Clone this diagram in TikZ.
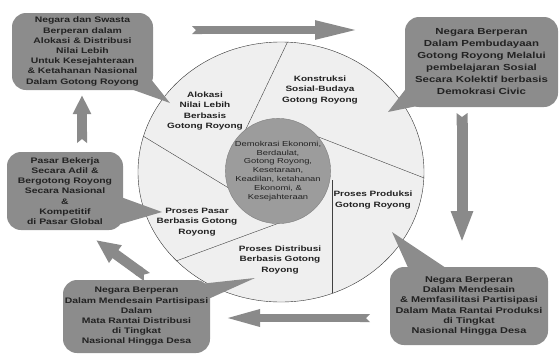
\documentclass[tikz,border=0pt]{standalone}
\usepackage{fontspec}
\setmainfont{Liberation Sans}[FakeStretch=1.3]
\usetikzlibrary{arrows.meta}
\definecolor{boxgray}{HTML}{8C8C8C}
\definecolor{arrowgray}{HTML}{8A8A8A}
\definecolor{ringgray}{HTML}{EFEFEF}
\definecolor{coregray}{HTML}{9C9C9C}
\definecolor{inkgray}{HTML}{222222}
\begin{document}
\begin{tikzpicture}[x=1pt, y=-1pt, box_style/.style={rounded corners=14pt,fill=boxgray,text=inkgray,align=center,inner sep=0pt,font=\fontsize{8}{10.2}\selectfont\bfseries},label_style/.style={align=center,text=inkgray,inner sep=0pt,font=\fontsize{7.7}{10.5}\selectfont\bfseries},core_style/.style={circle,fill=coregray,draw=gray,thin,minimum size=98pt,inner sep=0pt,align=center,text=inkgray,font=\fontsize{7.2}{8.9}\selectfont},pointer_style/.style={fill=boxgray},edge_style/.style={draw=arrowgray,{Triangle Cap[reversed,length=4pt]}-{Triangle[length=#1]}}]
      \useasboundingbox (0,0) rectangle (559,354);
      \fill[ringgray] (281,172) ellipse [x radius=143, y radius=130];
      \begin{scope}
        \clip (281,172) ellipse [x radius=143, y radius=130];
        \draw[black!75, thin] (245,131) -- (298,20);
        \draw[black!75, thin] (316,136) -- (450,188);
        \draw[black!75, thin] (332,180) -- (332,320);
        \draw[black!75, thin] (290,219) -- (130,278);
        \draw[black!75, thin] (232,190) -- (110,116);
      \end{scope}
      \draw[black!80, thin] (281,172) ellipse [x radius=143, y radius=130];
      \fill[pointer_style] (128,88) -- (150,78) -- (170,103) -- cycle;
      \fill[pointer_style] (408,86) -- (422,105) -- (388,112) -- cycle;
      \fill[pointer_style] (118,196) -- (114,226) -- (162,212) -- cycle;
      \fill[pointer_style] (410,272) -- (452,272) -- (392,232) -- cycle;
      \fill[pointer_style] (190,285) -- (206,300) -- (255,278) -- cycle;
      \draw
        (82.5,51.5) node[box_style,minimum width=141pt,minimum height=77pt] (alokasi_box){Negara dan Swasta\\Berperan dalam\\Alokasi \& Distribusi\\Nilai Lebih\\Untuk Kesejahteraan\\\& Ketahanan Nasional\\Dalam Gotong Royong}
        (481.5,62) node[box_style,minimum width=153pt,minimum height=90pt,font=\fontsize{8.8}{12}\selectfont\bfseries] (budaya_box){Negara Berperan\\Dalam Pembudayaan\\Gotong Royong Melalui\\pembelajaran Sosial\\Secara Kolektif berbasis\\Demokrasi Civic}
        (65,191) node[box_style,minimum width=116pt,minimum height=78pt] (pasar_box){Pasar Bekerja\\Secara Adil \&\\Bergotong Royong\\Secara Nasional\\\&\\Kompetitif\\di Pasar Global}
        (469,306) node[box_style,minimum width=158pt,minimum height=78pt,font=\fontsize{8.4}{10.2}\selectfont\bfseries] (produksi_box){Negara Berperan\\Dalam Mendesain\\\& Memfasilitasi Partisipasi\\Dalam Mata Rantai Produksi\\di Tingkat\\Nasional Hingga Desa}
        (136.5,316.5) node[box_style,minimum width=147pt,minimum height=73pt] (distribusi_box){Negara Berperan\\Dalam Mendesain Partisipasi\\Dalam\\Mata Rantai Distribusi\\di Tingkat\\Nasional Hingga Desa}
        (205,111) node[label_style] (alokasi){Alokasi\\Nilai Lebih\\Berbasis\\Gotong Royong}
        (320,90) node[label_style] (konstruksi){Konstruksi\\Sosial-Budaya\\Gotong Royong}
        (373,200) node[label_style] (produksi){Proses Produksi\\Gotong Royong}
        (197,222) node[label_style] (pasar){Proses Pasar\\Berbasis Gotong\\Royong}
        (280,260) node[label_style] (distribusi){Proses Distribusi\\Berbasis Gotong\\Royong}
        (278,171) node[core_style] (core){Demokrasi Ekonomi,\\Berdaulat,\\Gotong Royong,\\Kesetaraan,\\Keadilan, ketahanan\\Ekonomi, \&\\Kesejahteraan};
      \coordinate (top_tail) at (192,30);
      \coordinate (top_tip) at (360,30);
      \coordinate (right_tail) at (462,113);
      \coordinate (right_tip) at (462,243);
      \coordinate (bottom_tail) at (370,318);
      \coordinate (bottom_tip) at (222,318);
      \coordinate (diag_tail) at (147,277);
      \coordinate (diag_tip) at (96,240);
      \coordinate (left_tail) at (82,143);
      \coordinate (left_tip) at (82,95);
      \begin{scope}
        \draw[edge_style={45pt,width=17pt}, line width=8pt] (top_tail) to (top_tip);
        \draw[edge_style={32pt,width=20pt}, line width=11pt] (right_tail) to (right_tip);
        \draw[edge_style={38pt,width=15pt}, line width=8pt] (bottom_tail) to (bottom_tip);
        \draw[edge_style={24pt,width=20pt}, line width=10pt] (diag_tail) to (diag_tip);
        \draw[edge_style={19pt,width=17pt}, line width=10pt] (left_tail) to (left_tip);
      \end{scope}
    \end{tikzpicture}
\end{document}
